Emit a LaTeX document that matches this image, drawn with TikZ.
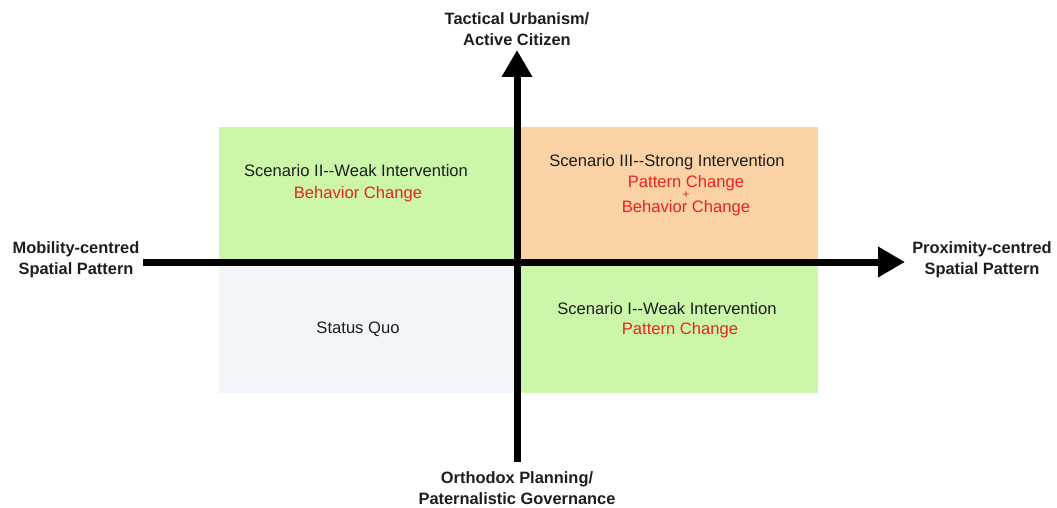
\documentclass[tikz,border=0pt]{standalone}
\usepackage{fontspec}
\setmainfont{Liberation Sans}
\usetikzlibrary{arrows.meta}
\definecolor{quadgreen}{RGB}{204,246,170}
\definecolor{quadorange}{RGB}{250,210,166}
\definecolor{quadgrey}{RGB}{242,245,250}
\definecolor{changered}{RGB}{232,36,30}
\definecolor{txtdark}{RGB}{30,30,30}
\tikzset{
  quad/.style={draw=none},
  axislabel/.style={font=\fontsize{16.4}{21.5}\selectfont\bfseries, align=center, text=txtdark, inner sep=0pt},
  scen/.style={font=\fontsize{16.6}{20}\selectfont, text=txtdark, inner sep=0pt},
  change/.style={font=\fontsize{16.6}{20}\selectfont, text=changered, inner sep=0pt},
  axis/.style={line width=7pt, -{Triangle[length=27pt,width=29pt]}},
}
\begin{document}
\begin{tikzpicture}[x=1pt,y=-1pt]
\useasboundingbox (0,0) rectangle (1057,508);
% quadrant backgrounds
\fill[quadgreen]  (219,127) rectangle (517,262);
\fill[quadorange] (517,127) rectangle (818,262);
\fill[quadgrey]   (219,262) rectangle (517,393);
\fill[quadgreen]  (517,262) rectangle (818,393);
% axis ends
\coordinate (xstart) at (143,262);
\coordinate (xend) at (905,262);
\coordinate (ystart) at (517,462);
\coordinate (yend) at (517,50);
\draw[axis] (xstart) -- (xend);
\draw[axis] (ystart) -- (yend);
% axis labels
\node[axislabel] (top) at (517,29) {Tactical Urbanism/\\Active Citizen};
\node[axislabel] (bottom) at (517,488) {Orthodox Planning/\\Paternalistic Governance};
\node[axislabel] (left) at (76,260) {Mobility-centred\\Spatial Pattern};
\node[axislabel] (right) at (982,260) {Proximity-centred\\Spatial Pattern};
% quadrant texts
\node[scen] (s2) at (356,171) {Scenario II-{}-Weak Intervention};
\node[change] (s2c) at (358,194) {Behavior Change};
\node[scen] (s3) at (667,162) {Scenario III-{}-Strong Intervention};
\node[change] (s3a) at (686,183) {Pattern Change};
\node[change, font=\fontsize{12}{12}\selectfont] (s3p) at (686,195) {+};
\node[change] (s3b) at (686,208) {Behavior Change};
\node[scen] (s1) at (667,309) {Scenario I-{}-Weak Intervention};
\node[change] (s1c) at (680,330) {Pattern Change};
\node[scen] (sq) at (358,329) {Status Quo};
\end{tikzpicture}
\end{document}
